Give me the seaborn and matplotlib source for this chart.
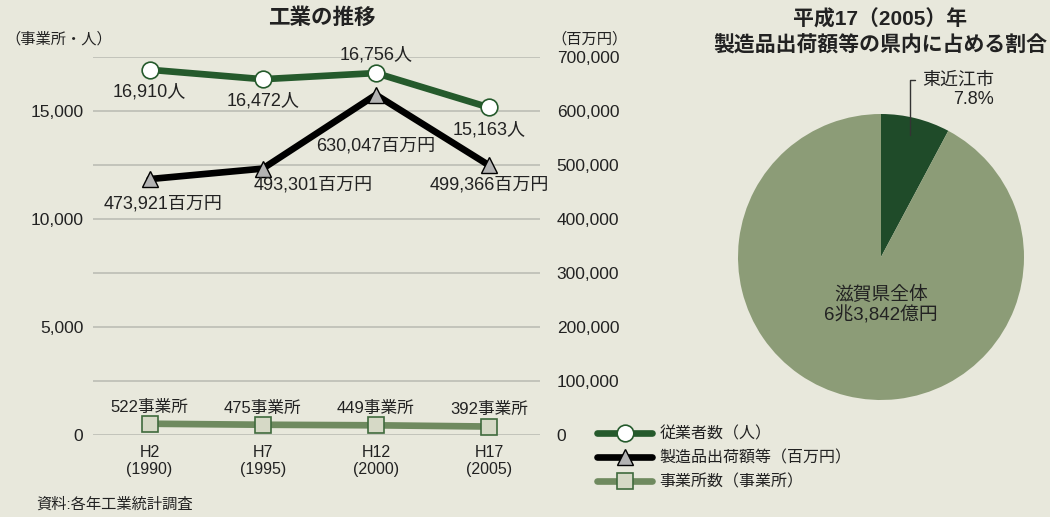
import matplotlib
matplotlib.use("Agg")
import matplotlib.pyplot as plt
from matplotlib.lines import Line2D
import seaborn as sns
import pandas as pd

# ---- data ----
periods = ["H2\n(1990)", "H7\n(1995)", "H12\n(2000)", "H17\n(2005)"]
employees = [16910, 16472, 16756, 15163]
shipments = [473921, 493301, 630047, 499366]
establishments = [522, 475, 449, 392]
left_ticks = [0, 5000, 10000, 15000]
right_ticks = [0, 100000, 200000, 300000, 400000, 500000, 600000, 700000]
pie_labels = ["東近江市", "その他"]
pie_share = [7.8, 92.2]

BG = "#e8e8dc"
DARK = "#255a2c"
MID = "#6f8a5f"
PIE_DARK = "#1f4b29"
PIE_LIGHT = "#8c9c77"
GRID = "#bcbdb5"
TXT = "#222222"

sns.set_style("white")
plt.rcParams["font.family"] = ["Liberation Sans", "Noto Sans CJK JP", "DejaVu Sans"]
plt.rcParams["axes.unicode_minus"] = False

fig = plt.figure(figsize=(10.5, 5.17), dpi=100, facecolor=BG)

ax = fig.add_axes([93 / 1050, 1 - 435 / 517, (540 - 93) / 1050, (435 - 57) / 517])
ax2 = ax.twinx()
ax2.set_zorder(0)
ax.set_zorder(1)
ax.patch.set_visible(False)
ax2.patch.set_facecolor(BG)

df = pd.DataFrame({"x": range(len(periods)), "emp": employees,
                   "ship": shipments, "est": establishments})

for v in right_ticks:
    ax2.axhline(v, color=GRID, lw=1.2, zorder=0)

sns.lineplot(data=df, x="x", y="ship", ax=ax2, color="black", lw=4.8,
             marker="^", markersize=11, markerfacecolor="#b3b3b3",
             markeredgecolor="black", markeredgewidth=1.0, zorder=3)
sns.lineplot(data=df, x="x", y="emp", ax=ax, color=DARK, lw=4.8,
             marker="o", markersize=12, markerfacecolor="white",
             markeredgecolor=DARK, markeredgewidth=1.2, zorder=3)
sns.lineplot(data=df, x="x", y="est", ax=ax, color=MID, lw=4.8,
             marker="s", markersize=11, markerfacecolor="#d6d9c6",
             markeredgecolor="#3f6a3d", markeredgewidth=1.2, zorder=3)

ax.set_xlim(-0.5, 3.45)
ax.set_ylim(0, 17500)
ax2.set_ylim(0, 700000)
ax.set_xticks(range(len(periods)))
ax.set_xticklabels(periods, fontsize=11.5, linespacing=1.15)
ax.set_yticks(left_ticks)
ax.set_yticklabels([f"{v:,}" for v in left_ticks], fontsize=12.5)
ax2.set_yticks(right_ticks)
ax2.set_yticklabels([f"{v:,}" for v in right_ticks], fontsize=12.5)
for a in (ax, ax2):
    a.set_xlabel("")
    a.set_ylabel("")
    for s in a.spines.values():
        s.set_visible(False)
    a.tick_params(length=0, colors=TXT)
ax.tick_params(axis="y", pad=7)
ax2.tick_params(axis="y", pad=12)
ax.tick_params(axis="x", pad=7)

fs = 13
emp_off = [(0, -16), (0, -16), (0, 13), (0, -16)]
for i, v in enumerate(employees):
    ax.annotate(f"{v:,}人", (i, v), xytext=emp_off[i], textcoords="offset points",
                ha="center", va="center", fontsize=fs, color=TXT, zorder=5)
ship_off = [(10, -18), (36, -12), (0, -37), (0, -14)]
for i, v in enumerate(shipments):
    ax2.annotate(f"{v:,}百万円", (i, v), xytext=ship_off[i], textcoords="offset points",
                 ha="center", va="center", fontsize=fs, color=TXT, zorder=5)
for i, v in enumerate(establishments):
    ax.annotate(f"{v}事業所", (i, v), xytext=(0, 12), textcoords="offset points",
                ha="center", va="center", fontsize=12, color=TXT, zorder=5)

fig.text(322 / 1050, 1 - 18 / 517, "工業の推移", ha="center", va="center",
         fontsize=15.5, fontweight="bold", color=TXT)
fig.text(5 / 1050, 1 - 39 / 517, "（事業所・人）", ha="left", va="center",
         fontsize=11, color=TXT)
fig.text(590 / 1050, 1 - 39 / 517, "（百万円）", ha="center", va="center",
         fontsize=11, color=TXT)
fig.text(36 / 1050, 1 - 505 / 517, "資料:各年工業統計調査", ha="left", va="center",
         fontsize=11, color=TXT)

handles = [
    Line2D([], [], color=DARK, lw=4.8, marker="o", markersize=12,
           markerfacecolor="white", markeredgecolor=DARK, markeredgewidth=1.2),
    Line2D([], [], color="black", lw=4.8, marker="^", markersize=11,
           markerfacecolor="#b3b3b3", markeredgecolor="black", markeredgewidth=1.0),
    Line2D([], [], color=MID, lw=4.8, marker="s", markersize=11,
           markerfacecolor="#d6d9c6", markeredgecolor="#3f6a3d", markeredgewidth=1.2),
]
fig.legend(handles, ["従業者数（人）", "製造品出荷額等（百万円）", "事業所数（事業所）"],
           loc="upper left", bbox_to_anchor=(583 / 1050, 1 - 412 / 517),
           frameon=False, fontsize=11.5, handlelength=3.4, labelspacing=0.55,
           handletextpad=0.5, labelcolor=TXT)

pax = fig.add_axes([738 / 1050, 1 - 400 / 517, 286 / 1050, 286 / 517])
pax.set_facecolor(BG)
pax.pie(pie_share, colors=[PIE_DARK, PIE_LIGHT], startangle=90, counterclock=False,
        radius=1.0, wedgeprops=dict(linewidth=0))
pax.set_xlim(-1, 1)
pax.set_ylim(-1, 1)
pax.set_aspect("equal")
pax.axis("off")

fig.text(880 / 1050, 1 - 19 / 517, "平成17（2005）年", ha="center", va="center",
         fontsize=15, fontweight="bold", color=TXT)
fig.text(880 / 1050, 1 - 45 / 517, "製造品出荷額等の県内に占める割合", ha="center", va="center",
         fontsize=15, fontweight="bold", color=TXT)
fig.text(881 / 1050, 1 - 305 / 517, "滋賀県全体\n6兆3,842億円", ha="center", va="center",
         fontsize=13.5, color=TXT, linespacing=1.2)
fig.text(994 / 1050, 1 - 90 / 517, f"{pie_labels[0]}\n{pie_share[0]}%", ha="right", va="center",
         fontsize=13, color=TXT, multialignment="right", linespacing=1.15)
fig.add_artist(Line2D([910 / 1050, 910 / 1050, 915 / 1050],
                      [1 - 135 / 517, 1 - 80 / 517, 1 - 80 / 517],
                      color="#333333", lw=1.0))

fig.savefig("out.png", dpi=100, facecolor=BG)
